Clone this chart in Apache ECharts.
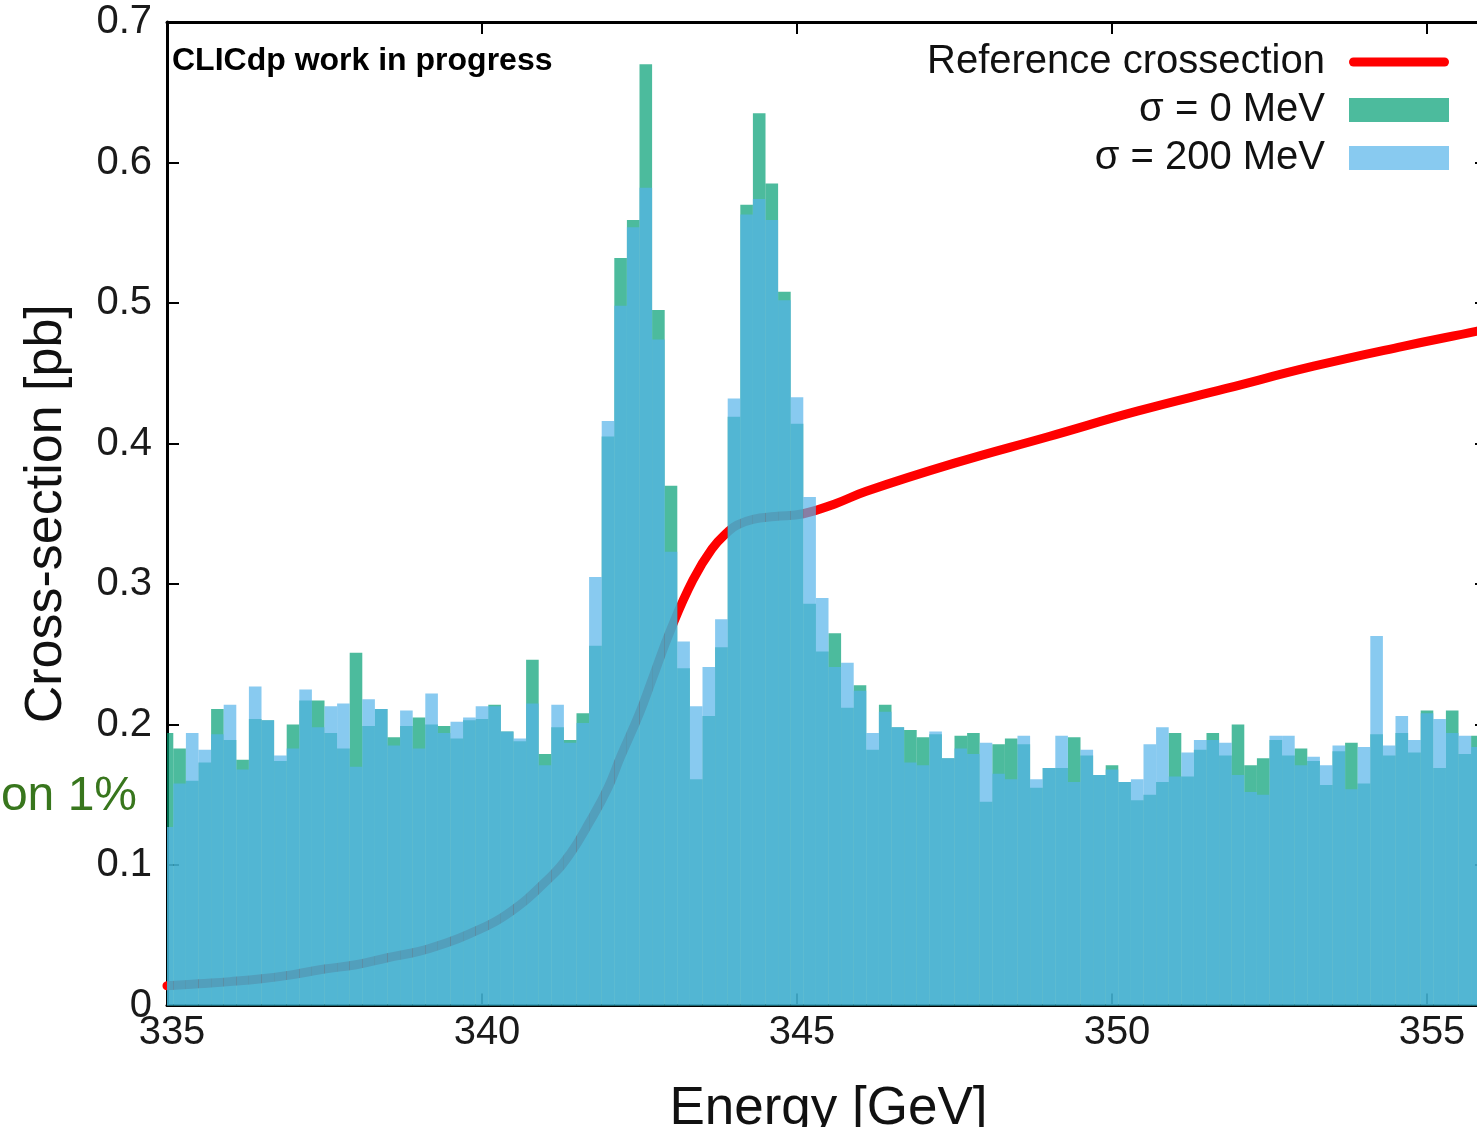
<!DOCTYPE html>
<html>
<head>
<meta charset="utf-8">
<script src="https://cdn.jsdelivr.net/npm/echarts@6.0.0/dist/echarts.min.js"></script>
<style>
html,body{margin:0;padding:0;background:#fff;}
#chart{width:1477px;height:1127px;}
</style>
</head>
<body>
<div id="chart"></div>
<script>
// Bin centres (GeV), bin width 0.2 GeV
const binCenters = [
  335.0,335.2,335.4,335.6,335.8,336.0,336.2,336.4,336.6,336.8,
  337.0,337.2,337.4,337.6,337.8,338.0,338.2,338.4,338.6,338.8,
  339.0,339.2,339.4,339.6,339.8,340.0,340.2,340.4,340.6,340.8,
  341.0,341.2,341.4,341.6,341.8,342.0,342.2,342.4,342.6,342.8,
  343.0,343.2,343.4,343.6,343.8,344.0,344.2,344.4,344.6,344.8,
  345.0,345.2,345.4,345.6,345.8,346.0,346.2,346.4,346.6,346.8,
  347.0,347.2,347.4,347.6,347.8,348.0,348.2,348.4,348.6,348.8,
  349.0,349.2,349.4,349.6,349.8,350.0,350.2,350.4,350.6,350.8,
  351.0,351.2,351.4,351.6,351.8,352.0,352.2,352.4,352.6,352.8,
  353.0,353.2,353.4,353.6,353.8,354.0,354.2,354.4,354.6,354.8,
  355.0,355.2,355.4,355.6,355.8
];
const binWidth = 0.2;
// sigma = 0 MeV histogram (pb)
const sigma0 = [
  0.194,0.183,0.160,0.173,0.211,0.189,0.175,0.204,0.203,0.174,
  0.200,0.217,0.217,0.194,0.183,0.251,0.199,0.211,0.191,0.199,
  0.205,0.200,0.199,0.190,0.203,0.204,0.214,0.195,0.188,0.246,
  0.179,0.198,0.189,0.208,0.256,0.405,0.532,0.559,0.670,0.495,
  0.370,0.240,0.161,0.206,0.255,0.419,0.570,0.635,0.585,0.508,
  0.414,0.286,0.252,0.265,0.212,0.228,0.182,0.214,0.198,0.196,
  0.191,0.193,0.176,0.192,0.194,0.145,0.186,0.190,0.186,0.155,
  0.169,0.169,0.191,0.178,0.164,0.171,0.159,0.146,0.150,0.159,
  0.194,0.163,0.182,0.194,0.178,0.200,0.171,0.176,0.189,0.178,
  0.183,0.174,0.157,0.181,0.187,0.158,0.193,0.178,0.194,0.180,
  0.210,0.169,0.210,0.179,0.192
];
// sigma = 200 MeV histogram (pb)
const sigma200 = [
  0.127,0.158,0.194,0.182,0.193,0.214,0.168,0.227,0.203,0.178,
  0.183,0.225,0.198,0.213,0.215,0.170,0.218,0.211,0.185,0.210,
  0.183,0.222,0.194,0.202,0.205,0.213,0.213,0.195,0.190,0.215,
  0.171,0.214,0.187,0.201,0.305,0.416,0.498,0.554,0.582,0.474,
  0.323,0.259,0.213,0.241,0.275,0.432,0.563,0.574,0.559,0.502,
  0.433,0.362,0.290,0.241,0.244,0.224,0.194,0.209,0.198,0.173,
  0.171,0.195,0.176,0.183,0.179,0.187,0.165,0.161,0.192,0.161,
  0.169,0.192,0.159,0.182,0.164,0.168,0.159,0.161,0.186,0.198,
  0.163,0.180,0.189,0.189,0.187,0.164,0.152,0.150,0.192,0.192,
  0.171,0.177,0.171,0.185,0.154,0.184,0.263,0.185,0.206,0.189,
  0.208,0.204,0.194,0.192,0.184
];
// Reference cross-section curve
const refEnergy = [335.0,335.5,336.0,336.5,337.0,337.5,338.0,338.5,339.0,339.3,339.8,340.4,341.1,341.4,341.7,342.0,342.2,342.5,342.7,343.0,343.35,343.65,343.9,344.05,344.3,344.65,345.1,345.6,346.1,347.5,349.0,350.4,351.8,353.2,354.6,355.8,356.0];
const refXsec   = [0.014,0.0155,0.017,0.019,0.022,0.026,0.029,0.034,0.0385,0.0425,0.051,0.065,0.092,0.108,0.130,0.155,0.177,0.208,0.232,0.268,0.303,0.325,0.337,0.342,0.346,0.348,0.350,0.357,0.366,0.386,0.405,0.423,0.439,0.455,0.469,0.480,0.482];

const seriesNames = ['Reference crossection', 'σ = 0 MeV', 'σ = 200 MeV'];
const FONT = '"Liberation Sans", Arial, sans-serif';

const chart = echarts.init(document.getElementById('chart'), null, {renderer: 'canvas'});

const zip = (xs, ys) => xs.map((x, i) => [x, ys[i]]);

function histRender(params, api) {
  const x = api.value(0), y = api.value(1);
  const p0 = api.coord([x - binWidth / 2, y]);
  const p1 = api.coord([x + binWidth / 2, 0]);
  const cs = params.coordSys;
  const rect = echarts.graphic.clipRectByRect(
    {x: p0[0], y: p0[1], width: p1[0] - p0[0], height: p1[1] - p0[1]},
    {x: cs.x, y: cs.y, width: cs.width, height: cs.height}
  );
  if (!rect) return null;
  return {type: 'rect', shape: rect, style: {fill: api.visual('color')}};
}

const lineIcon = 'path://M4.5,0 L95.5,0 A4.5,4.5 0 0 1 95.5,9 L4.5,9 A4.5,4.5 0 0 1 4.5,0 Z';

const option = {
  animation: false,
  backgroundColor: '#ffffff',
  grid: {left: 167, top: 22, width: 1323, height: 983.5, containLabel: false, outerBoundsMode: 'none'},
  legend: {
    orient: 'vertical',
    right: 23,
    top: 37,
    align: 'right',
    itemWidth: 100,
    itemHeight: 24,
    itemGap: 8,
    symbolKeepAspect: true,
    textStyle: {fontSize: 40, fontFamily: FONT, color: '#111', padding: [0, 19, 0, 0]},
    data: [
      {name: seriesNames[0], icon: lineIcon, itemStyle: {color: '#ff0000'}},
      {name: seriesNames[1], icon: 'rect'},
      {name: seriesNames[2], icon: 'rect'}
    ]
  },
  xAxis: [
    {
      type: 'value', min: 335, max: 356, interval: 5, position: 'bottom',
      name: 'Energy [GeV]', nameLocation: 'middle', nameGap: 77,
      nameTextStyle: {fontSize: 53, fontFamily: FONT, color: '#111'},
      axisLine: {show: true, onZero: false, lineStyle: {color: '#000', width: 3}},
      axisTick: {show: true, inside: true, length: 12, lineStyle: {color: '#000', width: 2}},
      axisLabel: {show: true, fontSize: 40, fontFamily: FONT, color: '#1a1a1a', margin: 7,
                  padding: [0, 0, 0, 10], showMaxLabel: false,
                  formatter: v => (v % 5 === 0 ? String(v) : '')},
      splitLine: {show: false}
    },
    {
      type: 'value', min: 335, max: 356, interval: 5, position: 'top',
      axisLine: {show: true, onZero: false, lineStyle: {color: '#000', width: 3}},
      axisTick: {show: true, inside: true, length: 12, lineStyle: {color: '#000', width: 2}},
      axisLabel: {show: false},
      splitLine: {show: false}
    }
  ],
  yAxis: [
    {
      type: 'value', min: 0, max: 0.7, interval: 0.1, position: 'left',
      name: 'Cross-section [pb]', nameLocation: 'middle', nameGap: 94, nameRotate: 90,
      nameTextStyle: {fontSize: 52, fontFamily: FONT, color: '#111'},
      axisLine: {show: true, onZero: false, lineStyle: {color: '#000', width: 3}},
      axisTick: {show: true, inside: true, length: 12, lineStyle: {color: '#000', width: 2}},
      axisLabel: {show: true, fontSize: 40, fontFamily: FONT, color: '#1a1a1a', margin: 15,
                  formatter: v => (v === 0 ? '0' : v.toFixed(1))},
      splitLine: {show: false}
    },
    {
      type: 'value', min: 0, max: 0.7, interval: 0.1, position: 'right',
      axisLine: {show: true, onZero: false, lineStyle: {color: '#000', width: 3}},
      axisTick: {show: true, inside: true, length: 15, lineStyle: {color: '#000', width: 2}},
      axisLabel: {show: false},
      splitLine: {show: false}
    }
  ],
  series: [
    {
      name: seriesNames[0], type: 'line', xAxisIndex: 0, yAxisIndex: 0, z: 1,
      data: zip(refEnergy, refXsec),
      smooth: 0.45, symbol: 'none', showSymbol: false,
      lineStyle: {color: '#ff0000', width: 9, cap: 'round', join: 'round'},
      itemStyle: {color: '#ff0000'}
    },
    {
      name: seriesNames[1], type: 'custom', xAxisIndex: 0, yAxisIndex: 0, z: 2,
      renderItem: histRender,
      encode: {x: 0, y: 1},
      data: zip(binCenters, sigma0),
      itemStyle: {color: 'rgba(0,158,115,0.7)'}
    },
    {
      name: seriesNames[2], type: 'custom', xAxisIndex: 0, yAxisIndex: 0, z: 3,
      renderItem: histRender,
      encode: {x: 0, y: 1},
      data: zip(binCenters, sigma200),
      itemStyle: {color: 'rgba(86,180,233,0.7)'}
    }
  ],
  graphic: [
    {type: 'text', x: 172, y: 45, z: 10,
     style: {text: 'CLICdp work in progress', font: 'bold 32px "Liberation Sans", Arial, sans-serif', fill: '#000'}},
    {type: 'text', x: 137, y: 797, z: 10,
     style: {text: 'on 1%', font: '48px "Liberation Sans", Arial, sans-serif', fill: '#38761d', align: 'right', verticalAlign: 'middle'}}
  ]
};

chart.setOption(option);
</script>
</body>
</html>
